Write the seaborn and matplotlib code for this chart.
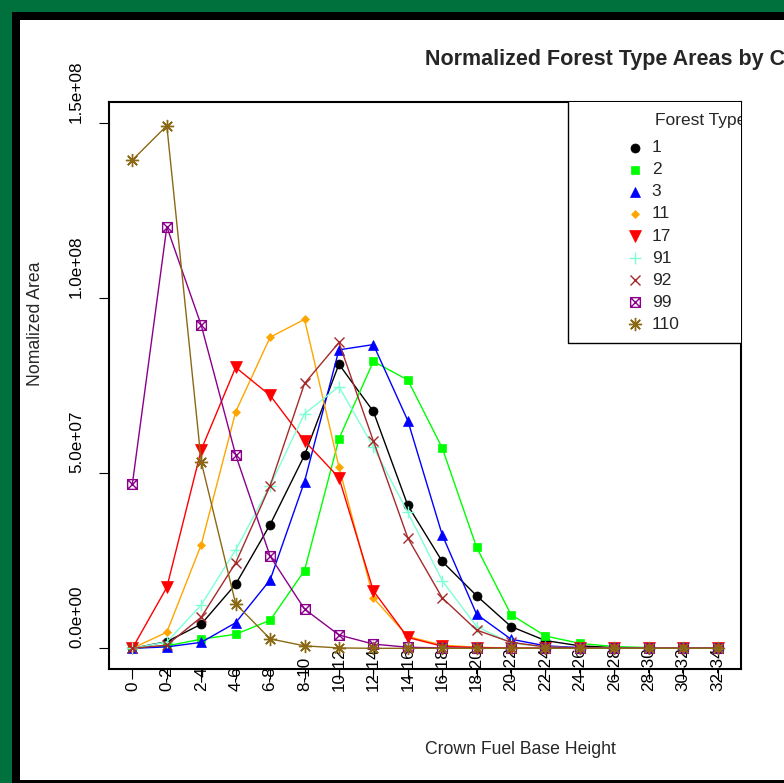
import numpy as np
import matplotlib
matplotlib.use("Agg")
import matplotlib.pyplot as plt
from matplotlib.path import Path
from matplotlib.patches import Rectangle
import seaborn as sns

# ---- data -------------------------------------------------------------
categories = ["0", "0-2", "2-4", "4-6", "6-8", "8-10", "10-12", "12-14", "14-16",
              "16-18", "18-20", "20-22", "22-24", "24-26", "26-28", "28-30",
              "30-32", "32-34"]
forest_types = ["1", "2", "3", "11", "17", "91", "92", "99", "110"]

area_1 = [0, 1.9e6, 6.9e6, 18.3e6, 35.3e6, 55.1e6, 81.1e6, 67.6e6, 40.8e6,
          24.8e6, 15.0e6, 6.2e6, 2.2e6, 0.7e6, 0.2e6, 0.1e6, 0, 0]
area_2 = [0, 0.7e6, 2.6e6, 4.0e6, 8.0e6, 22.2e6, 59.8e6, 81.9e6, 76.6e6,
          57.2e6, 28.8e6, 9.6e6, 3.5e6, 1.4e6, 0.5e6, 0.2e6, 0.1e6, 0]
area_3 = [0, 0.4e6, 1.7e6, 7.3e6, 19.5e6, 47.6e6, 85.2e6, 86.7e6, 65.0e6,
          32.4e6, 9.7e6, 2.6e6, 0.7e6, 0.2e6, 0.1e6, 0, 0, 0]
area_11 = [0, 4.6e6, 29.6e6, 67.5e6, 88.8e6, 93.9e6, 51.8e6, 14.4e6, 3.4e6,
           0.9e6, 0.3e6, 0.1e6, 0, 0, 0, 0, 0, 0]
area_17 = [0, 17.4e6, 56.7e6, 80.2e6, 72.2e6, 59.2e6, 48.7e6, 16.4e6, 3.1e6,
           0.6e6, 0.2e6, 0, 0, 0, 0, 0, 0, 0]
area_91 = [0, 1.8e6, 12.4e6, 28.1e6, 46.4e6, 67.0e6, 74.7e6, 57.5e6, 38.8e6,
           19.3e6, 6.2e6, 1.5e6, 0.4e6, 0.1e6, 0, 0, 0, 0]
area_92 = [0, 0.9e6, 8.9e6, 24.4e6, 46.4e6, 75.6e6, 87.3e6, 59.2e6, 31.5e6,
           14.4e6, 5.2e6, 1.7e6, 0.4e6, 0.1e6, 0, 0, 0, 0]
area_99 = [47.0e6, 120.3e6, 92.2e6, 55.2e6, 26.3e6, 11.2e6, 3.8e6, 1.2e6, 0.3e6,
           0.1e6, 0, 0, 0, 0, 0, 0, 0, 0]
area_110 = [139.4e6, 149.2e6, 53.2e6, 12.7e6, 2.7e6, 0.7e6, 0.1e6, 0, 0,
            0, 0, 0, 0, 0, 0, 0, 0, 0]

y_ticks = [0, 5e7, 1e8, 1.5e8]
y_tick_labels = ["0.0e+00", "5.0e+07", "1.0e+08", "1.5e+08"]

series = [area_1, area_2, area_3, area_11, area_17, area_91, area_92, area_99, area_110]

# ---- styling ----------------------------------------------------------
boxed_x = Path(
    [(-1, -1), (1, -1), (1, 1), (-1, 1), (-1, -1), (-1, -1), (1, 1), (-1, 1), (1, -1)],
    [Path.MOVETO, Path.LINETO, Path.LINETO, Path.LINETO, Path.CLOSEPOLY,
     Path.MOVETO, Path.LINETO, Path.MOVETO, Path.LINETO],
)
asterisk = (8, 2, 0)

styles = [
    dict(color="#000000", marker="o", ms=6.5, filled=True),
    dict(color="#00FF00", marker="s", ms=5.8, filled=True),
    dict(color="#0000FF", marker="^", ms=7.2, filled=True),
    dict(color="#FFA500", marker="D", ms=4.2, filled=True),
    dict(color="#FF0000", marker="v", ms=8.2, filled=True),
    dict(color="#7FFFD4", marker="+", ms=9.0, filled=False),
    dict(color="#A52A2A", marker="x", ms=6.5, filled=False),
    dict(color="#8B008B", marker=boxed_x, ms=7.0, filled=False),
    dict(color="#8B6914", marker=asterisk, ms=9.5, filled=False),
]

sns.set_style("white")
plt.rcParams["font.family"] = ["Liberation Sans", "DejaVu Sans"]

W, H = 784, 783
fig = plt.figure(figsize=(W / 100, H / 100), dpi=100)
fig.patch.set_facecolor("#00703C")


def fx(px):
    return px / W


def fy(py):
    return 1 - py / H


# dark frame and white page
fig.add_artist(Rectangle((fx(12), 0), 1.0, fy(12), transform=fig.transFigure,
                         facecolor="black", edgecolor="none", zorder=-3))
fig.add_artist(Rectangle((fx(19.5), fy(780)), 1.0, fy(19.5) - fy(780),
                         transform=fig.transFigure, facecolor="white",
                         edgecolor="none", zorder=-2))

AX_L, AX_R, AX_T, AX_B = 109, 741, 102, 669
ax = fig.add_axes([fx(AX_L), fy(AX_B), (AX_R - AX_L) / W, (AX_B - AX_T) / H])
ax.set_facecolor("white")


def ax_x(px):
    return (px - AX_L) / (AX_R - AX_L)


def ax_y(py):
    return (AX_B - py) / (AX_B - AX_T)


positions = np.arange(len(categories))
for vals, st in zip(series, styles):
    c = st["color"]
    sns.lineplot(x=positions, y=vals, ax=ax, color=c, linewidth=1.0,
                 marker=st["marker"], markersize=st["ms"],
                 markerfacecolor=c if st["filled"] else "none",
                 markeredgecolor=c, markeredgewidth=1.0 if not st["filled"] else 0.5,
                 legend=False, errorbar=None, sort=False)

ax.set_xlim(-0.68, len(categories) - 1 + 0.68)
px_per_unit = (648.3 - 298.0) / 1e8
ax.set_ylim(-(AX_B - 648.3) / px_per_unit, (648.3 - AX_T) / px_per_unit)

ax.set_xticks(positions, categories)
ax.set_yticks(y_ticks, y_tick_labels)
ax.grid(False)
for s in ax.spines.values():
    s.set_visible(True)
    s.set_color("black")
    s.set_linewidth(1.5)

ax.tick_params(axis="both", direction="out", length=7.2, width=0.8, color="black",
               labelsize=12.3, labelcolor="black", bottom=True, left=True)
ax.tick_params(axis="x", pad=8.6, labelrotation=90)
ax.tick_params(axis="y", pad=10.8, labelrotation=90)
for lab in ax.get_xticklabels():
    lab.set_va("bottom")
    lab.set_ha("center")
for lab in ax.get_yticklabels():
    lab.set_va("bottom")
    lab.set_ha("right")

ax.set_xlabel("Crown Fuel Base Height", fontsize=12.7)
ax.xaxis.set_label_coords(0.5, ax_y(749))
ax.xaxis.label.set_ha("left")
ax.xaxis.label.set_va("center")

ax.set_ylabel("Nomalized Area", fontsize=12.7)
ax.yaxis.set_label_coords(ax_x(35), 0.5)
ylab = ax.yaxis.label
ylab.set_rotation_mode("anchor")
ylab.set_ha("left")
ylab.set_va("center")

fig.text(fx(425), fy(60), "Normalized Forest Type Areas by Crown Fuel Base Height",
         ha="left", va="center", fontsize=15.5, fontweight="bold")

# legend box (clipped by the plotting region)
ax.add_patch(Rectangle((ax_x(568.3), ax_y(343.3)), ax_x(745) - ax_x(568.3),
                       1.0 - ax_y(343.3) + 0.01, transform=ax.transAxes,
                       facecolor="white", edgecolor="black", linewidth=1.0,
                       clip_on=True, zorder=5))
ax.text(ax_x(655), ax_y(120), "Forest Type", transform=ax.transAxes, ha="left",
        va="center", fontsize=12.5, clip_on=True, zorder=6)
for i, (ft, st) in enumerate(zip(forest_types, styles)):
    yy = ax_y(147.7 + 22.08 * i)
    c = st["color"]
    ax.plot([ax_x(635)], [yy], transform=ax.transAxes, linestyle="none",
            marker=st["marker"], markersize=st["ms"],
            markerfacecolor=c if st["filled"] else "none", markeredgecolor=c,
            markeredgewidth=1.0 if not st["filled"] else 0.5, zorder=6, clip_on=False)
    ax.text(ax_x(651.7), yy, ft, transform=ax.transAxes, ha="left", va="center",
            fontsize=12.5, zorder=6)

fig.savefig("out.png", dpi=100, facecolor=fig.get_facecolor())
